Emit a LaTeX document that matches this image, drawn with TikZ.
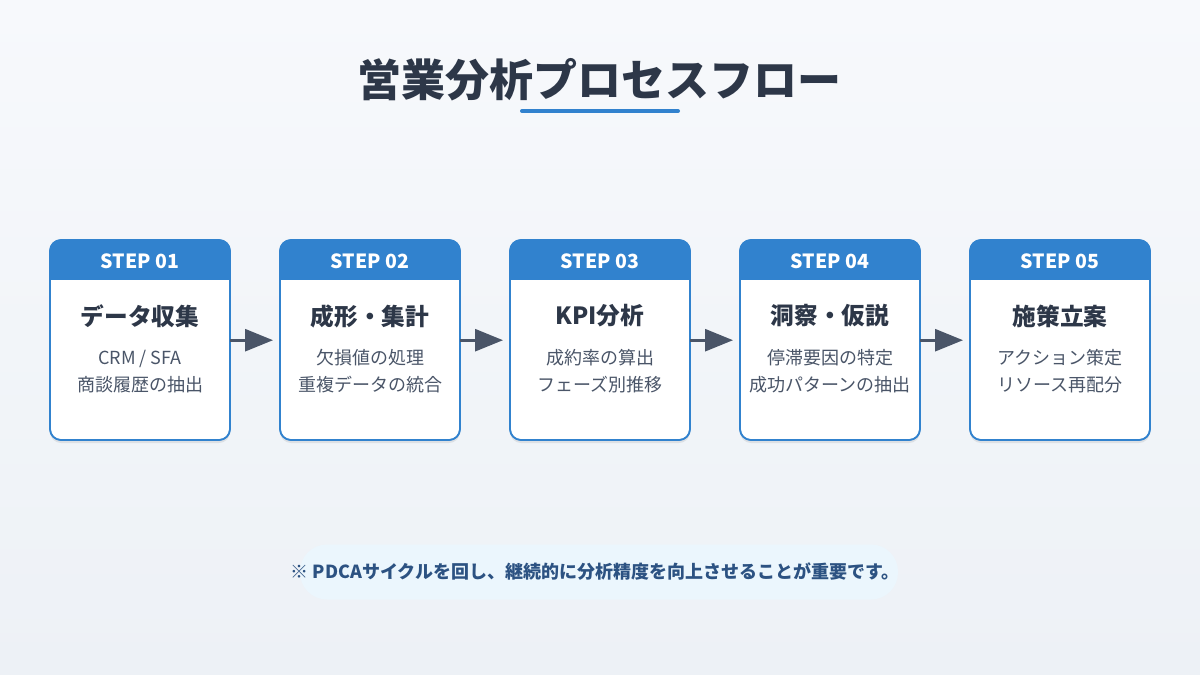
\documentclass[tikz,border=0pt]{standalone}
\usepackage{fontspec}
\setmainfont{Noto Sans CJK JP}
\usetikzlibrary{arrows.meta,shadows}
\definecolor{bgA}{HTML}{F7F9FC}
\definecolor{bgB}{HTML}{EDF1F6}
\definecolor{titlec}{HTML}{2D3748}
\definecolor{accent}{HTML}{3182CE}
\definecolor{subc}{HTML}{4A5568}
\definecolor{arrowc}{HTML}{4A5568}
\definecolor{notebg}{HTML}{EBF6FD}
\definecolor{notec}{HTML}{2C5282}
\tikzset{
  card/.style={draw=accent, line width=1.6pt, fill=white, rounded corners=11pt,
    drop shadow={shadow xshift=0pt, shadow yshift=-3pt, opacity=0.08, fill=black}},
  steplabel/.style={text=white, font=\fontsize{19.5}{22}\selectfont\bfseries},
  cardtitle/.style={text=titlec, font=\fontsize{23.7}{27}\selectfont\bfseries},
  cardsub/.style={text=subc, font=\fontsize{18}{27}\selectfont, align=center},
  flowarrow/.style={draw=arrowc, line width=2.8pt, -{Triangle[length=28pt,width=22pt]}}
}
\begin{document}
\begin{tikzpicture}[x=1pt,y=-1pt]
\useasboundingbox (0,0) rectangle (1200,675);
\shade[top color=bgA, bottom color=bgB] (0,0) rectangle (1200,675);
\node[text=titlec, font=\fontsize{44}{48}\selectfont\bfseries] (title) at (599,80) {営業分析プロセスフロー};
\draw[accent, line width=4pt, line cap=round] (522,111) -- (678,111);
\foreach \i/\n/\t/\a/\b in {
  1/01/データ収集/{CRM / SFA}/商談履歴の抽出,
  2/02/成形・集計/欠損値の処理/重複データの統合,
  3/03/KPI分析/成約率の算出/フェーズ別推移,
  4/04/洞察・仮説/停滞要因の特定/成功パターンの抽出,
  5/05/施策立案/アクション策定/リソース再配分}{
  \pgfmathsetmacro{\xl}{50+(\i-1)*230}
  \pgfmathsetmacro{\xc}{\xl+90}
  \begin{scope}
    \path[card] (\xl,240) rectangle ++(180,200);
    \clip[rounded corners=11pt] (\xl,240) rectangle ++(180,200);
    \fill[accent] (\xl,238) rectangle ++(180,42);
  \end{scope}
  \draw[accent, line width=1.6pt, rounded corners=11pt] (\xl,240) rectangle ++(180,200);
  \node[draw=none, minimum width=180pt, minimum height=200pt, anchor=north west] (box\i) at (\xl,240) {};
  \node[steplabel] (lab\i) at (\xc,261) {STEP \n};
  \node[cardtitle] (tit\i) at (\xc,316) {\t};
  \node[cardsub] (sub\i) at (\xc,371.5) {\a\\\b};
}
\foreach \i/\j in {1/2,2/3,3/4,4/5}{
  \draw[flowarrow] (box\i.east) -- ([xshift=-7pt]box\j.west);
}
\node[fill=notebg, rounded corners=27pt, minimum width=598pt, minimum height=55pt] (notebox) at (599,572) {};
\node[text=notec, font=\fontsize{18}{20}\selectfont\bfseries] (note) at (595,572) {※ PDCAサイクルを回し、継続的に分析精度を向上させることが重要です。};
\end{tikzpicture}
\end{document}
